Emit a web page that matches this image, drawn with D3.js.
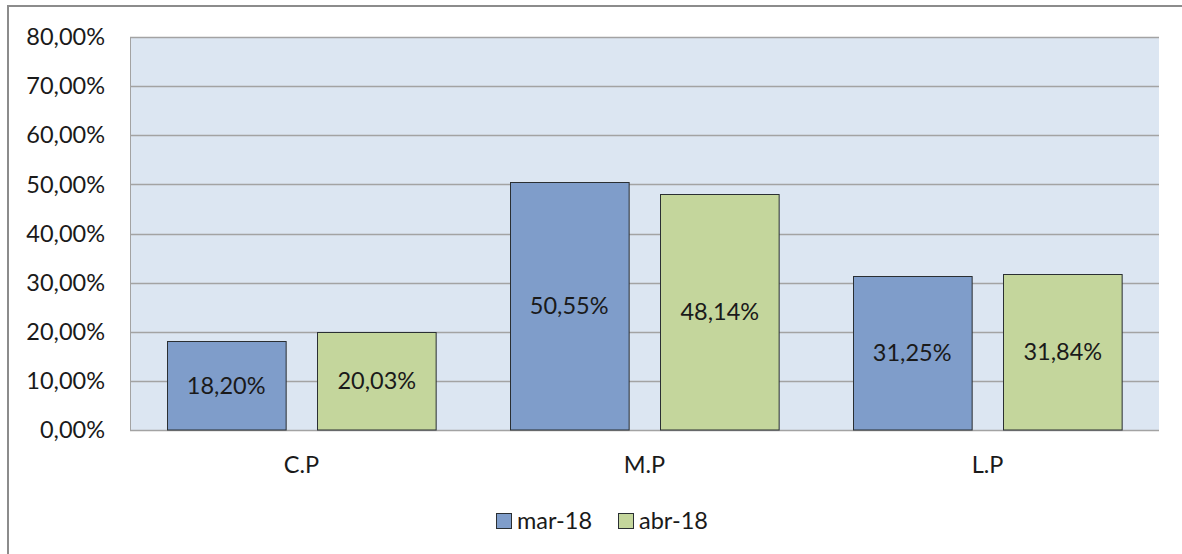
<!DOCTYPE html>
<html>
<head>
<meta charset="utf-8">
<script src="https://cdn.jsdelivr.net/npm/d3@7"></script>
<style>
  body { margin: 0; background: #fff; }
  text { font-family: Lato, "Open Sans", sans-serif; fill: #1a1a1a; }
</style>
</head>
<body>
<div id="chart"></div>
<script>
var categories = ["C.P", "M.P", "L.P"];
var series = ["mar-18", "abr-18"];
var marValues = [18.20, 50.55, 31.25];
var abrValues = [20.03, 48.14, 31.84];
var yTicks = [0, 10, 20, 30, 40, 50, 60, 70, 80];
var colors = ["#7f9dca", "#c4d69c"];

var svgWidth = 1182;
var svgHeight = 554;
var fontSize = 23.5;

var plot = { left: 130, top: 37, right: 1159, bottom: 430 };

var svg = d3.select("#chart")
    .append("svg")
    .attr("width", svgWidth)
    .attr("height", svgHeight);

// outer chart border (cut off on right and bottom)
svg.append("rect")
    .attr("x", 8)
    .attr("y", 6)
    .attr("width", 1200)
    .attr("height", 600)
    .attr("fill", "#fff")
    .attr("stroke", "#8c8c8c")
    .attr("stroke-width", 2);

var x0 = d3.scaleBand()
    .domain(categories)
    .range([plot.left, plot.right]);

var x1 = d3.scaleBand()
    .domain(series)
    .range([0, x0.bandwidth()])
    .paddingInner(0.212)
    .paddingOuter(0.245);

var y = d3.scaleLinear()
    .domain([0, 80])
    .range([plot.bottom, plot.top]);

// plot background
svg.append("rect")
    .attr("x", plot.left)
    .attr("y", plot.top)
    .attr("width", plot.right - plot.left)
    .attr("height", plot.bottom - plot.top)
    .attr("fill", "#dce6f2");

// gridlines
svg.selectAll(".grid")
    .data(yTicks)
    .enter()
    .append("line")
    .attr("x1", plot.left)
    .attr("x2", plot.right)
    .attr("y1", d => Math.round(y(d)) + 0.5)
    .attr("y2", d => Math.round(y(d)) + 0.5)
    .attr("stroke", "#a3a3a3")
    .attr("stroke-width", 1.5);

// left axis line
svg.append("line")
    .attr("x1", plot.left + 0.5)
    .attr("x2", plot.left + 0.5)
    .attr("y1", plot.top)
    .attr("y2", plot.bottom)
    .attr("stroke", "#a3a3a3");

// y tick labels
var fmt = v => v.toFixed(2).replace(".", ",") + "%";
svg.selectAll(".ylab")
    .data(yTicks)
    .enter()
    .append("text")
    .attr("x", 105)
    .attr("y", d => y(d))
    .attr("dy", "0.35em")
    .attr("text-anchor", "end")
    .attr("font-size", fontSize)
    .text(d => fmt(d));

// bars
var rows = categories.map((c, i) => ({ cat: c, values: [marValues[i], abrValues[i]] }));

var groups = svg.selectAll(".cat")
    .data(rows)
    .enter()
    .append("g")
    .attr("transform", d => `translate(${x0(d.cat)}, 0)`);

var bars = groups.selectAll("g")
    .data(d => d.values.map((v, j) => ({ s: series[j], v: v, j: j })))
    .enter()
    .append("g");

bars.append("rect")
    .attr("x", d => Math.round(x1(d.s)) + 0.5)
    .attr("y", d => Math.round(y(d.v)) + 0.5)
    .attr("width", x1.bandwidth())
    .attr("height", d => plot.bottom - Math.round(y(d.v)) - 0.5)
    .attr("fill", d => colors[d.j])
    .attr("stroke", "#2a2f33")
    .attr("stroke-width", 1);

bars.append("text")
    .attr("x", d => x1(d.s) + x1.bandwidth() / 2)
    .attr("y", d => (y(d.v) + plot.bottom) / 2)
    .attr("dy", "0.35em")
    .attr("text-anchor", "middle")
    .attr("font-size", fontSize)
    .text(d => fmt(d.v));

// category labels
svg.selectAll(".xlab")
    .data(categories)
    .enter()
    .append("text")
    .attr("x", d => x0(d) + x0.bandwidth() / 2)
    .attr("y", 465)
    .attr("dy", "0.35em")
    .attr("text-anchor", "middle")
    .attr("font-size", fontSize)
    .text(d => d);

// legend
var legendX = [496, 618];
var legend = svg.selectAll(".legend")
    .data(series)
    .enter()
    .append("g")
    .attr("transform", (d, i) => `translate(${legendX[i]}, 521)`);

legend.append("rect")
    .attr("x", 0.5)
    .attr("y", -7.5)
    .attr("width", 15)
    .attr("height", 15)
    .attr("fill", (d, i) => colors[i])
    .attr("stroke", "#2a2f33");

legend.append("text")
    .attr("x", 21)
    .attr("y", 0)
    .attr("dy", "0.35em")
    .attr("font-size", fontSize)
    .text(d => d);
</script>
</body>
</html>
